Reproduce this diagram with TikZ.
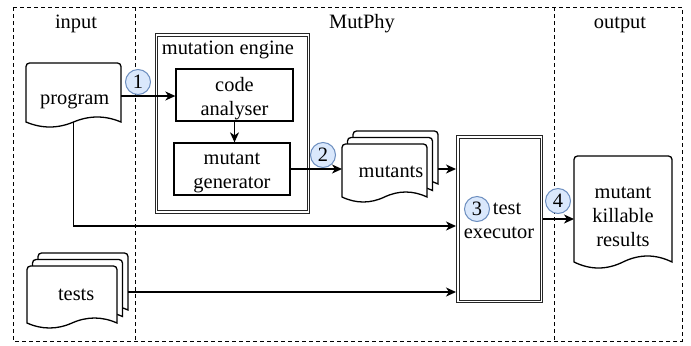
\documentclass[tikz,border=0pt]{standalone}
\usepackage{fontspec}
\setmainfont{Liberation Serif}
\usetikzlibrary{arrows.meta,calc}
\definecolor{numfill}{HTML}{DAE8FC}
\definecolor{numdraw}{HTML}{6C8EBF}
\tikzset{
  docline/.style={draw=black, fill=white, line width=1.3bp},
  boxline/.style={draw=black, line width=1.3bp, inner sep=0pt, outer sep=0.65bp},
  dblbox/.style={draw=black!85, line width=1bp, double=white, double distance=1.5bp, inner sep=0pt, outer sep=1.75bp},
  framedash/.style={draw=black, line width=1bp, dash pattern=on 4bp off 3bp},
  arr/.style={line width=1.3bp, -{Stealth[length=10bp,width=9bp,inset=3bp]}},
  numcirc/.style={circle, fill=numfill, draw=numdraw, line width=1bp, minimum size=25bp, inner sep=0pt},
  txt/.style={inner sep=0pt, align=center},
  anchorbox/.style={inner sep=0pt, outer sep=0pt},
}
% x1 y1 x2 ybase amplitude
\newcommand{\docshape}[5]{%
  \draw[docline] (#1,{(#2+#4)/2}) [rounded corners=3.5bp] -- (#1,#2) -- (#3,#2) -- (#3,{(#2+#4)/2}) [sharp corners] -- (#3,#4)
    .. controls ({#3-(#3-#1)/6},{#4-4*#5/3}) and ({#3-(#3-#1)/3},{#4-4*#5/3}) .. ({(#1+#3)/2},#4)
    .. controls ({#1+(#3-#1)/3},{#4+4*#5/3}) and ({#1+(#3-#1)/6},{#4+4*#5/3}) .. (#1,#4) -- cycle;}
\begin{document}
\begin{tikzpicture}[x=1bp,y=-1bp,font=\fontsize{20.4bp}{24bp}\selectfont]
\useasboundingbox (0,0) rectangle (691,345);
\fill[white] (0,0) rectangle (691,345);
% frames
\draw[framedash] (13,7) rectangle (682,341);
\coordinate (d1t) at (135,7); \coordinate (d1b) at (135,341);
\coordinate (d2t) at (554,7); \coordinate (d2b) at (554,341);
\draw[framedash] (d1t) -- (d1b);
\draw[framedash] (d2t) -- (d2b);
\node[txt, anchor=base] (tin) at (76,28.5) {input};
\node[txt, anchor=base] (tmut) at (362,28.5) {MutPhy};
\node[txt, anchor=base] (tout) at (620,28.5) {output};
% mutation engine
\node[dblbox, minimum width=152bp, minimum height=177bp] (engine) at (232.5,123.5) {};
\node[txt, anchor=base west] (engineT) at (161.7,54.5) {mutation engine};
\node[boxline, minimum width=117bp, minimum height=52bp] (ca) at (234.5,95) {};
\node[txt] (caT) at (234.5,98.7) {code\\analyser};
\node[boxline, minimum width=116bp, minimum height=52bp] (mg) at (232,169) {};
\node[txt] (mgT) at (232,173.3) {mutant\\generator};
% test executor
\node[dblbox, minimum width=83.5bp, minimum height=164.5bp] (te) at (499.5,219) {};
\node[txt] (teT) at (499,221.1) {\hspace*{16bp}test\\executor};
% program document
\docshape{26}{63}{121}{122}{5}
\node[anchorbox, minimum width=95bp, minimum height=52bp] (program) at (73.5,96) {};
\node[txt, anchor=base] (programT) at (74.7,104.3) {program};
% tests stack
\docshape{38}{253}{128}{310}{5}
\docshape{32.5}{259.5}{122.5}{316.5}{5}
\docshape{27}{266}{117}{323}{5}
\node[anchorbox, minimum width=101bp, minimum height=40bp] (tests) at (77.5,292) {};
\node[txt, anchor=base] (testsT) at (76.2,300) {tests};
% mutants stack
\docshape{353}{131}{438}{184}{5}
\docshape{347.5}{137.5}{432.5}{190.5}{5}
\docshape{342}{144}{427}{197}{5}
\node[anchorbox, minimum width=96bp, minimum height=40bp] (mutants) at (390,169) {};
\node[txt, anchor=base] (mutantsT) at (391,177.3) {mutants};
% output document
\docshape{574}{156}{672}{262}{6}
\node[anchorbox, minimum width=98bp, minimum height=80bp] (outdoc) at (623,219) {};
\node[txt] (outdocT) at (623,216.4) {mutant\\killable\\results};
% connectors
\draw[arr] (program.east) -- (program.east -| ca.west);
\draw[arr] (ca.south) -- (ca.south |- mg.north);
\draw[arr] (mg.east) -- (mg.east -| mutants.west);
\draw[arr] (mutants.east) -- (mutants.east -| te.west);
\draw[arr] (program.south) |- ($(te.west)+(0,7)$);
\draw[arr] (tests.east) -- (tests.east -| te.west);
\draw[arr] (te.east) -- (te.east -| outdoc.west);
% step numbers
\node[numcirc] (c1) at (138,82) {1};
\node[numcirc] (c2) at (323,155) {2};
\node[numcirc] (c3) at (477,209) {3};
\node[numcirc] (c4) at (558,201) {4};
\end{tikzpicture}
\end{document}
